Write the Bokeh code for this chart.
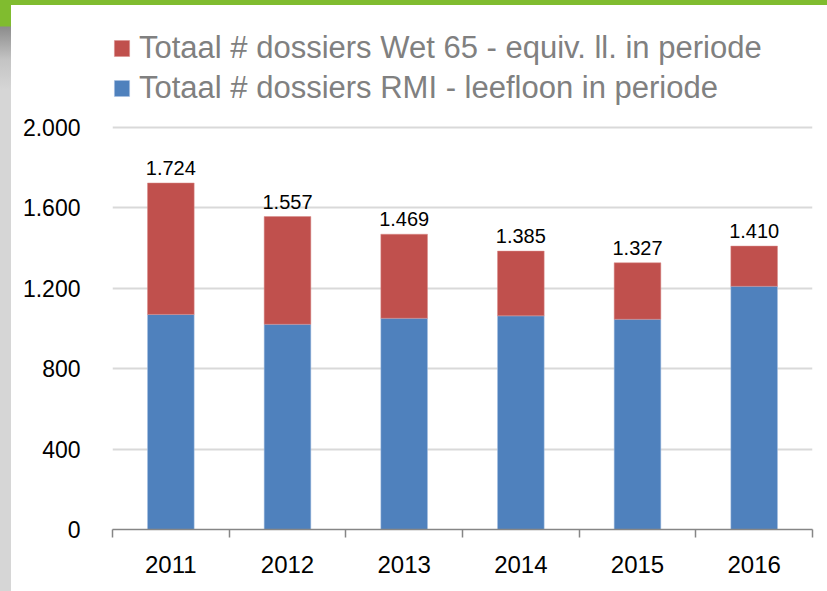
from bokeh.plotting import figure
from bokeh.layouts import column
from bokeh.models import (ColumnDataSource, Range1d, FixedTicker, Legend, LegendItem,
                          LabelSet)
from bokeh.core.properties import value
from bokeh.embed import file_html
from bokeh.resources import INLINE

years = ["2011", "2012", "2013", "2014", "2015", "2016"]
rmi = [1070, 1021, 1051, 1063, 1046, 1210]
totals = [1724, 1557, 1469, 1385, 1327, 1410]
wet65 = [t - r for t, r in zip(totals, rmi)]
y_ticks = [0, 400, 800, 1200, 1600, 2000]
series_names = ["Totaal # dossiers Wet 65 - equiv. ll. in periode",
                "Totaal # dossiers RMI - leefloon in periode"]

RED = "#C0504D"
BLUE = "#4F81BD"
GREEN = "#80BC2F"
FONT = "Liberation Sans"


def fmt(v):
    return f"{v:,}".replace(",", ".")


xs = [i + 0.5 for i in range(len(years))]
src = ColumnDataSource(dict(x=xs, rmi=rmi, wet=wet65, tot=totals,
                            lab=[fmt(t) for t in totals]))

p = figure(width=816, height=586, x_range=Range1d(0, len(years)),
           y_range=Range1d(0, 2000 * 524 / 402),
           output_backend="svg", toolbar_location=None,
           min_border_left=101, min_border_right=15, min_border_bottom=62, min_border_top=0)
p.outline_line_color = None
p.background_fill_color = "white"
p.border_fill_color = "white"

r_blue = p.vbar(x="x", bottom=0, top="rmi", width=0.4, source=src,
                fill_color=BLUE, line_color="#A9C1E3", line_width=0.5)
r_red = p.vbar(x="x", bottom="rmi", top="tot", width=0.4, source=src,
               fill_color=RED, line_color="#D98C8A", line_width=0.5)

labels = LabelSet(x="x", y="tot", text="lab", source=src, y_offset=8,
                  text_align="center", text_baseline="alphabetic",
                  text_font=value(FONT), text_font_size="20px", text_color="#000000")
p.add_layout(labels)

xa = p.xaxis[0]
xa.ticker = FixedTicker(ticks=xs, minor_ticks=list(range(len(years) + 1)))
xa.major_label_overrides = {x: y for x, y in zip(xs, years)}
xa.major_tick_line_color = None
xa.major_tick_out = 0
xa.major_tick_in = 0
xa.minor_tick_line_color = "#868686"
xa.minor_tick_line_width = 1.5
xa.minor_tick_out = 8
xa.minor_tick_in = 0
xa.axis_line_color = "#868686"
xa.axis_line_width = 1.5
xa.major_label_text_font = FONT
xa.major_label_text_font_size = "24px"
xa.major_label_text_color = "#000000"
xa.major_label_standoff = 18

ya = p.yaxis[0]
ya.ticker = FixedTicker(ticks=y_ticks)
ya.major_label_overrides = {t: fmt(t) for t in y_ticks}
ya.axis_line_color = None
ya.major_tick_line_color = None
ya.minor_tick_line_color = None
ya.major_label_text_font = FONT
ya.major_label_text_font_size = "23px"
ya.major_label_text_color = "#000000"
ya.major_label_standoff = 26

p.xgrid.grid_line_color = None
p.ygrid.ticker = FixedTicker(ticks=y_ticks)
p.ygrid.grid_line_color = "#D9D9D9"
p.ygrid.grid_line_width = 2

legend = Legend(items=[LegendItem(label=series_names[0], renderers=[r_red]),
                       LegendItem(label=series_names[1], renderers=[r_blue])],
                location=(0, 423), orientation="vertical",
                label_text_font=FONT, label_text_font_size="31px",
                label_text_color="#808080", glyph_width=19, glyph_height=20,
                label_standoff=8, spacing=4, padding=0, margin=0,
                border_line_color=None, background_fill_alpha=0)
p.add_layout(legend, "center")

# slide decoration (green band on top, grey strip on the left) as container styling
layout = column(p, width=827, height=591, styles={
    "padding": "5px 0 0 11px",
    "box-sizing": "border-box",
    "background": ("linear-gradient(#80BC2F, #80BC2F) left top / 100% 5px no-repeat, "
                   "linear-gradient(to bottom, #80BC2F 0px, #80BC2F 26px, #8C8C8C 27px, "
                   "#C4C4C4 60px, #D6D6D6 90px, #D6D6D6 100%) left top / 11px 100% no-repeat, "
                   "#FFFFFF"),
})
open("out.html", "w").write(file_html(layout, INLINE))
